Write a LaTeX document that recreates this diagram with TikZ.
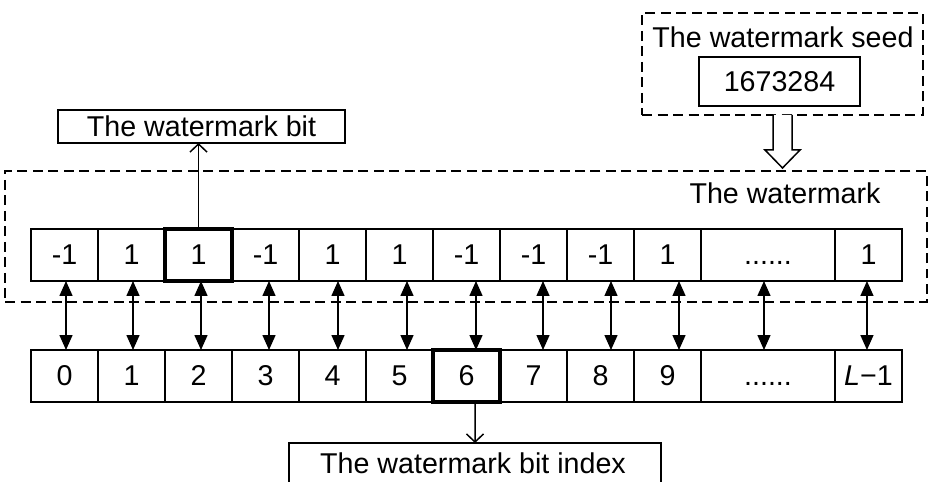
\documentclass[tikz,border=0pt]{standalone}
\usepackage{fontspec}
\setmainfont{Liberation Sans}
\usetikzlibrary{arrows.meta,calc,positioning}

\tikzset{
  cell/.style={draw,line width=0.03cm,minimum width=1.34cm,minimum height=1.04cm,
               inner sep=0pt,outer sep=0pt},
  wide/.style={minimum width=2.68cm},
  keycell/.style={line width=0.07cm},
  dashbox/.style={draw,line width=0.03cm,dash pattern=on 0.2cm off 0.11cm,
                  inner sep=0pt,outer sep=0pt},
  labelbox/.style={draw,line width=0.03cm,inner sep=0pt,outer sep=0pt},
  link/.style={line width=0.03cm,{Triangle[length=0.3cm,width=0.26cm]}-{Triangle[length=0.3cm,width=0.26cm]}},
  pick/.style={line width=0.03cm,-{Straight Barb[length=0.16cm,width=0.34cm]}}
}

\begin{document}
\begin{tikzpicture}[x=0.02cm,y=-0.02cm,font=\fontsize{16.3}{19}\selectfont]
  \useasboundingbox (0,0) rectangle (929,482);
  \fill[white] (0,0) rectangle (929,482);

  % seed
  \node[dashbox,minimum width=5.62cm,minimum height=2.04cm] (seedbox) at (782.5,64) {};
  \node (seedlbl) at (783,37) {The watermark seed};
  \node[labelbox,minimum width=3.22cm,minimum height=0.98cm] (seed) at (779.5,81.5) {1673284};

  % watermark sequence
  \node[dashbox,minimum width=18.44cm,minimum height=2.62cm] (wm) at (466,236.5) {};
  \node (wmlbl) at (785,193) {The watermark};
  \foreach \v [count=\i from 0] in {-1,1,1,-1,1,1,-1,-1,-1,1}
    \node[cell] (w\i) at ({64.5+67*\i},255) {\v};
  \node[cell,wide,right=0pt of w9] (wd) {\vphantom{1}......};
  \node[cell,right=0pt of wd] (wl) {1};
  \draw[keycell] (w2.south west) rectangle (w2.north east);

  % index sequence
  \foreach \i in {0,...,9}
    \node[cell] (n\i) at ({64.5+67*\i},376) {\i};
  \node[cell,wide,right=0pt of n9] (nd) {\vphantom{1}......};
  \node[cell,right=0pt of nd] (nl) {\textit{L}−1};
  \draw[keycell] (n6.south west) rectangle (n6.north east);

  \foreach \i/\dx in {0/1.5,1/1.5,2/2.5,3/3.5,4/5.5,5/7.5,6/9.5,7/9.5,8/10.5,9/11.5,d/-4,l/-1.5}
    \draw[link] ($(w\i.south)+(\dx,0)$) -- ($(n\i.north)+(\dx,0)$);

  % picked bit and its index
  \node[labelbox,minimum width=5.74cm,minimum height=0.66cm] (bit) at (201.5,126.5) {The watermark bit};
  \draw[pick] (w2.north) -- (w2.north |- bit.south);
  \node[labelbox,minimum width=7.44cm,minimum height=0.92cm] (idx) at (475,466) {};
  \node (idxlbl) at (473,463) {The watermark bit index};
  \draw[pick] ($(n6.south)+(8.5,0)$) -- (idx.north);

  % hollow arrow seed -> watermark
  \draw[line width=0.03cm,fill=white] ($(seedbox.south)+(-9.5,0)$) -- ++(0,35) -- ++(-8,0)
    -- ($(seedbox.south)+(0,53)$) -- ++(17.5,-18) -- ++(-8,0) -- ($(seedbox.south)+(9.5,0)$);
\end{tikzpicture}
\end{document}
